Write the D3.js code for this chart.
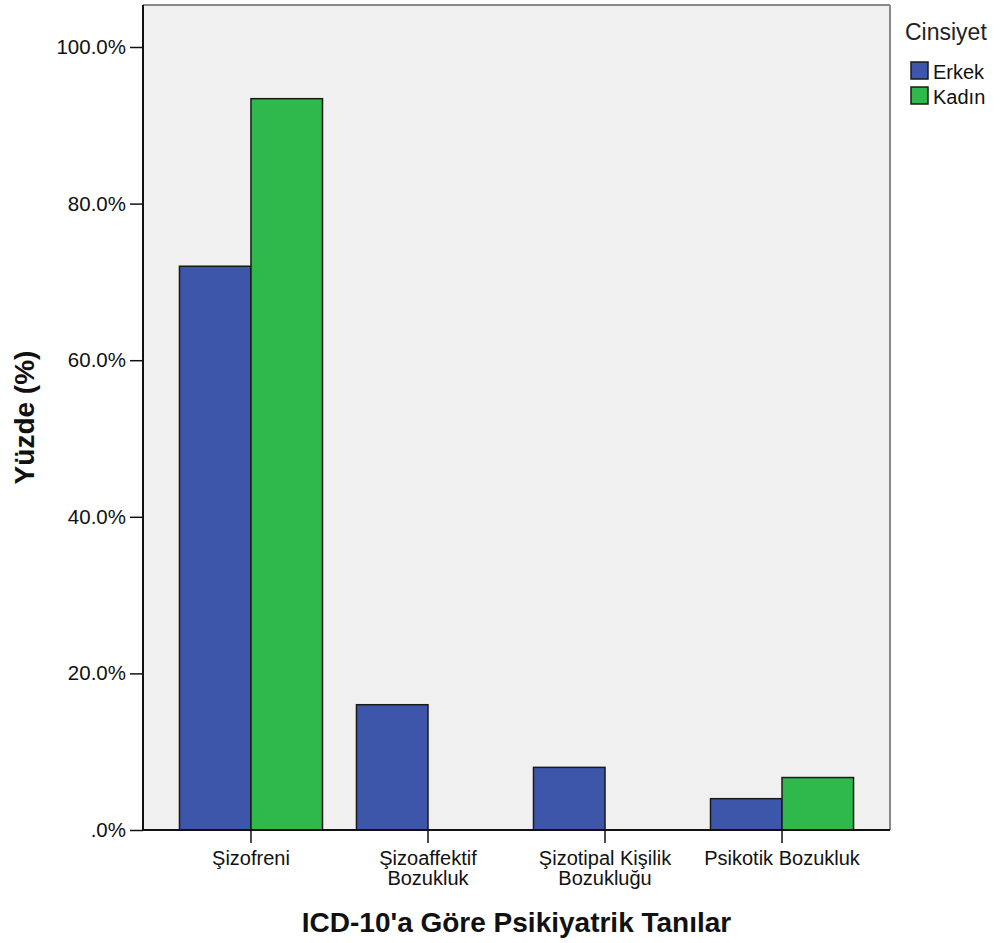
<!DOCTYPE html>
<html><head><meta charset="utf-8">
<script src="https://cdn.jsdelivr.net/npm/d3@7"></script>
<style>body{margin:0;background:#fff}text{font-family:"Liberation Sans",Arial,sans-serif}</style>
</head><body><svg id="c" width="1003" height="943"></svg>
<script>
const categories = [["Şizofreni"],["Şizoaffektif","Bozukluk"],["Şizotipal Kişilik","Bozukluğu"],["Psikotik Bozukluk"]];
const categoryKeys = ["Şizofreni","Şizoaffektif Bozukluk","Şizotipal Kişilik Bozukluğu","Psikotik Bozukluk"];
const seriesNames = ["Erkek","Kadın"];
const erkek = [72.0, 16.0, 8.0, 4.0];
const kadin = [93.4, 0, 0, 6.7];
const yTicks = [0,20,40,60,80,100];
const colors = ["#3d56a9","#2fb84b"];

(function(){
const svg = d3.select("#c");
const pLeft=143, pRight=890, pTop=5, pBottom=830;
const y = d3.scaleLinear().domain([0,100]).range([pBottom,47]);
const x = d3.scaleBand().domain(categoryKeys).range([pLeft,pRight]).paddingInner(0.192).paddingOuter(0.206);
const xs = d3.scaleBand().domain(seriesNames).range([0,x.bandwidth()]);

svg.append("rect").attr("x",pLeft).attr("y",pTop).attr("width",pRight-pLeft).attr("height",pBottom-pTop).attr("fill","#f0f0f0");
svg.append("line").attr("x1",pLeft).attr("x2",pRight).attr("y1",pTop).attr("y2",pTop).attr("stroke","#8a8a8a").attr("stroke-width",2);
svg.append("line").attr("x1",pRight).attr("x2",pRight).attr("y1",pTop).attr("y2",pBottom).attr("stroke","#8a8a8a").attr("stroke-width",2);

const data = categoryKeys.map((k,i)=>({k, vals:[erkek[i],kadin[i]]}));
const g = svg.append("g");
data.forEach(d=>{
  d.vals.forEach((v,j)=>{
    g.append("rect").attr("x",x(d.k)+xs(seriesNames[j])).attr("y",y(v))
      .attr("width",xs.bandwidth()).attr("height",y(0)-y(v))
      .attr("fill",colors[j]).attr("stroke","#1a1a1a").attr("stroke-width",1.5);
  });
});

const ya = svg.append("g").attr("transform",`translate(${pLeft},0)`)
  .call(d3.axisLeft(y).tickValues(yTicks).tickSize(13).tickPadding(4).tickFormat(v=> v===0?".0%":v.toFixed(1)+"%"));
ya.select(".domain").remove();
ya.append("line").attr("x1",0).attr("x2",0).attr("y1",pTop).attr("y2",pBottom).attr("stroke","#111").attr("stroke-width",2);
ya.selectAll(".tick line").attr("stroke","#111").attr("stroke-width",1.5);
ya.selectAll(".tick text").attr("font-size",20.5).attr("fill","#111").attr("font-family","Liberation Sans, Arial, sans-serif");

const xa = svg.append("g").attr("transform",`translate(0,${pBottom})`)
  .call(d3.axisBottom(x).tickSize(13).tickFormat(""));
xa.select(".domain").remove();
xa.append("line").attr("x1",pLeft).attr("x2",pRight).attr("y1",0).attr("y2",0).attr("stroke","#111").attr("stroke-width",2);
xa.selectAll(".tick line").attr("stroke","#111").attr("stroke-width",1.5);
categoryKeys.forEach((k,i)=>{
  const t = xa.append("text").attr("x",x(k)+x.bandwidth()/2).attr("y",35).attr("text-anchor","middle")
    .attr("font-size",20).attr("fill","#111");
  categories[i].forEach((line,li)=>{
    t.append("tspan").attr("x",x(k)+x.bandwidth()/2).attr("dy",li===0?0:20).text(line);
  });
});

svg.append("text").attr("x",(pLeft+pRight)/2).attr("y",932).attr("text-anchor","middle")
  .attr("font-size",28).attr("font-weight","bold").attr("fill","#111").text("ICD-10'a Göre Psikiyatrik Tanılar");
svg.append("text").attr("transform",`translate(34,${(pTop+pBottom)/2}) rotate(-90)`).attr("text-anchor","middle")
  .attr("font-size",28).attr("font-weight","bold").attr("fill","#111").text("Yüzde (%)");

const lg = svg.append("g");
lg.append("text").attr("x",905).attr("y",40).attr("font-size",23).attr("fill","#222").text("Cinsiyet");
seriesNames.forEach((s,i)=>{
  lg.append("rect").attr("x",911).attr("y",62+i*25).attr("width",17).attr("height",17)
    .attr("fill",colors[i]).attr("stroke","#1a1a1a").attr("stroke-width",1.5);
  lg.append("text").attr("x",933).attr("y",79+i*25).attr("font-size",20).attr("fill","#111").text(s);
});
})();
</script></body></html>
